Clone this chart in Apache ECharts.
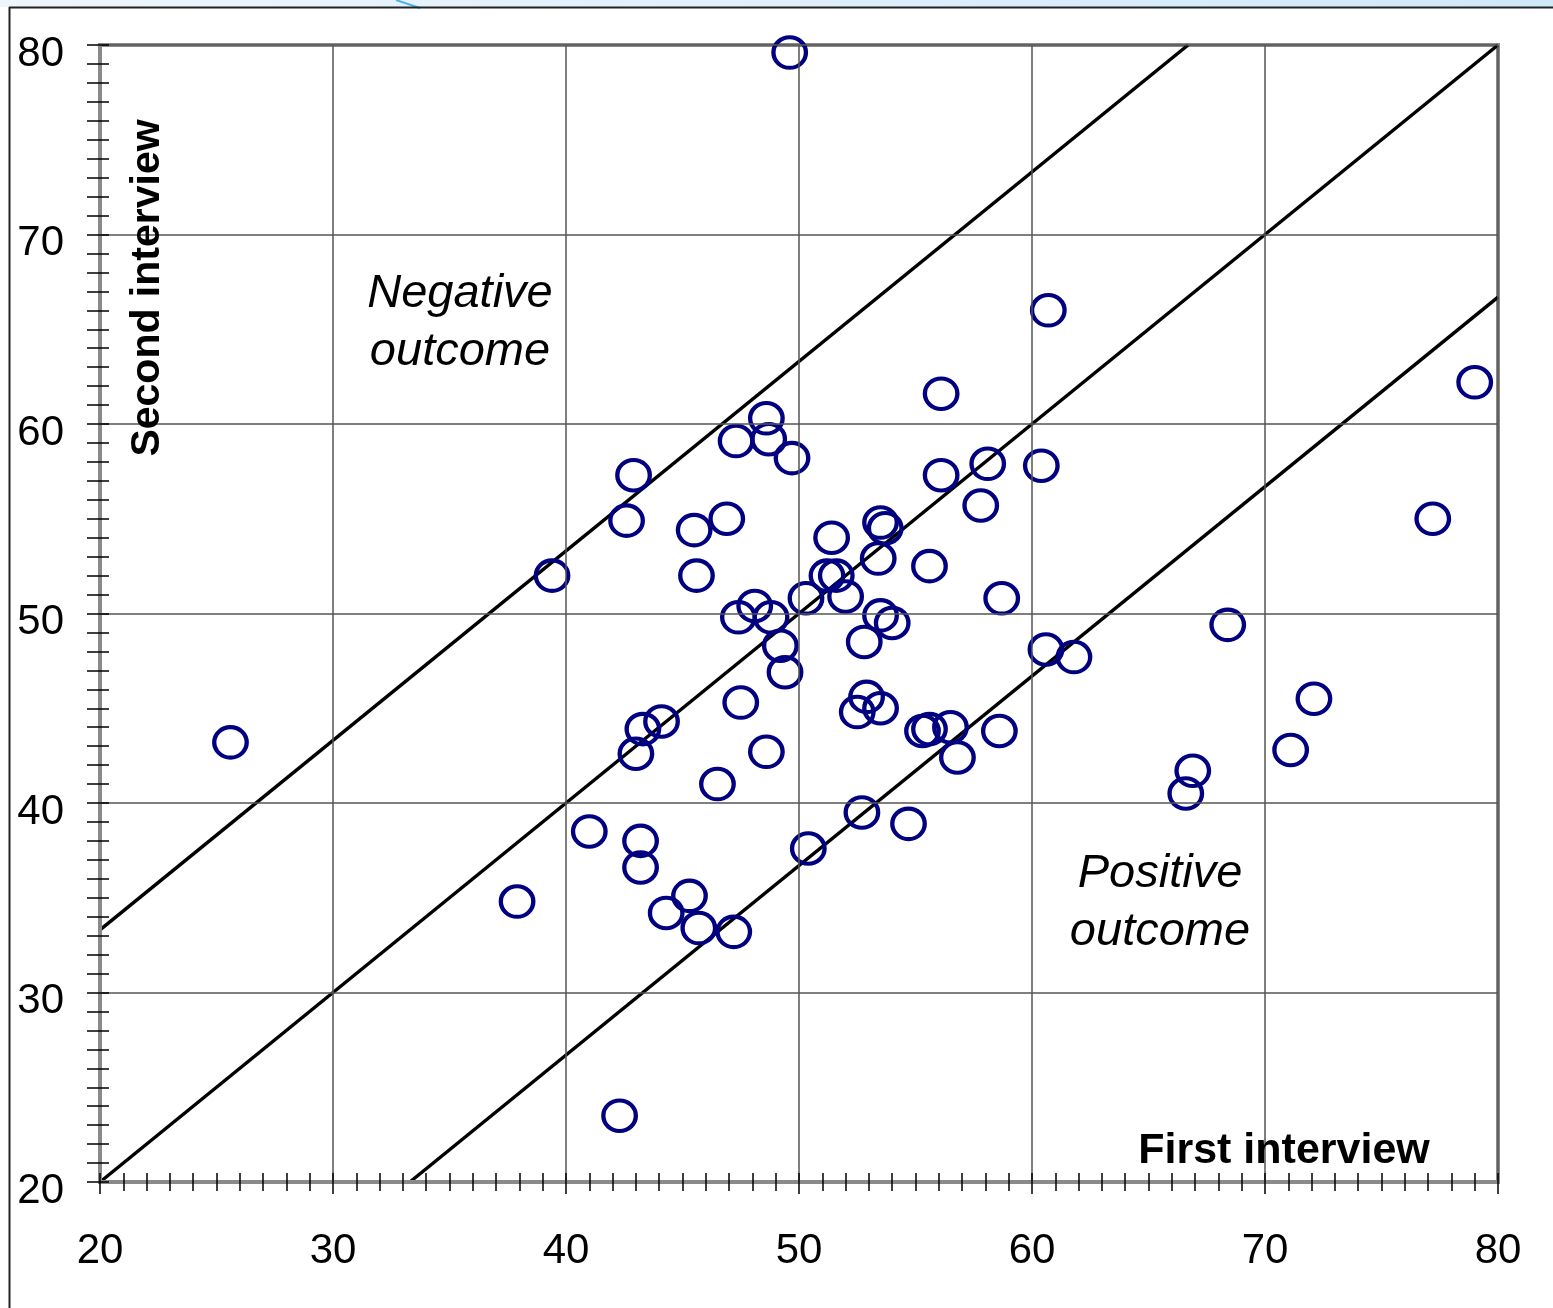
<!DOCTYPE html>
<html>
<head>
<meta charset="utf-8">
<script src="https://cdn.jsdelivr.net/npm/echarts@6/dist/echarts.min.js"></script>
<style>html,body{margin:0;padding:0;background:#fff;}#c{width:1553px;height:1308px;}</style>
</head>
<body>
<div id="c"></div>
<script>
// First interview score (x) and second interview score (y), one entry per respondent
const firstInterview = [
  49.6, 60.7, 56.1, 79.0, 48.6, 47.3, 48.7, 49.7, 42.9, 56.1,
  58.1, 60.4, 57.8, 77.2, 42.6, 46.9, 45.5, 51.4, 53.5, 53.7,
  39.4, 45.6, 53.4, 55.6, 51.2, 51.6, 52.0, 50.3, 58.7, 48.1,
  47.4, 48.8, 53.5, 54.0, 49.2, 52.8, 68.4, 60.6, 61.8, 49.4,
  47.5, 52.9, 52.5, 53.5, 72.1, 44.1, 43.3, 43.0, 55.3, 55.6,
  56.5, 56.8, 58.6, 48.6, 46.5, 66.9, 66.6, 71.1, 25.6, 41.0,
  43.2, 43.2, 52.7, 54.7, 50.4, 37.9, 45.3, 44.3, 45.7, 47.2,
  42.3
];
const secondInterview = [
  79.6, 66.0, 61.6, 62.2, 60.3, 59.1, 59.2, 58.2, 57.3, 57.3,
  57.9, 57.8, 55.7, 55.0, 54.9, 55.0, 54.4, 54.0, 54.8, 54.5,
  52.0, 52.0, 52.9, 52.5, 52.0, 52.0, 50.9, 50.8, 50.8, 50.4,
  49.8, 49.8, 49.9, 49.5, 48.3, 48.5, 49.4, 48.1, 47.7, 46.9,
  45.3, 45.6, 44.8, 45.0, 45.5, 44.3, 43.9, 42.6, 43.8, 43.9,
  44.0, 42.4, 43.8, 42.7, 41.0, 41.7, 40.5, 42.8, 43.2, 38.5,
  38.0, 36.6, 39.5, 38.9, 37.6, 34.8, 35.1, 34.2, 33.4, 33.2,
  23.5
];
// Axis tick labels (both axes)
const tickLabels = [20, 30, 40, 50, 60, 70, 80];
// Reference lines (endpoints)
const diagonalLine = [[20, 20], [80, 80]];
const upperBandLine = [[20, 33.3], [66.7, 80]];
const lowerBandLine = [[33.3, 20], [80, 66.7]];
// Texts
const negativeText = 'Negative\noutcome';
const positiveText = 'Positive\noutcome';
const xTitle = 'First interview';
const yTitle = 'Second interview';

const FONT = '"Liberation Sans", Arial, Helvetica, sans-serif';
const axisMin = tickLabels[0], axisMax = tickLabels[tickLabels.length - 1];
const axisStep = tickLabels[1] - tickLabels[0];

const points = firstInterview.map((x, i) => [x, secondInterview[i]]);

const chart = echarts.init(document.getElementById('c'), null, {renderer: 'canvas'});

function mainAxis(isX) {
  const label = {
    show: true, color: '#000', fontFamily: FONT, fontSize: 42,
    margin: isX ? 48 : 36,
    formatter: v => tickLabels.includes(v) ? String(v) : ''
  };
  if (!isX) { label.verticalAlign = 'top'; label.lineHeight = 18; }
  return {
    type: 'value', min: axisMin, max: axisMax, interval: axisStep,
    position: isX ? 'bottom' : 'left',
    axisLine: {show: true, onZero: false, lineStyle: {color: '#8a8a8a', width: 4}},
    axisTick: {show: true, inside: false, length: isX ? 12 : 13, lineStyle: {color: '#000', width: 1.5}},
    minorTick: {show: true, splitNumber: 10, length: isX ? 9 : 13, lineStyle: {color: '#000', width: 1.5}},
    splitLine: {show: true, lineStyle: {color: '#555', width: 1.5}},
    axisLabel: label,
    z: 5
  };
}
function innerAxis(isX) {
  return {
    type: 'value', min: axisMin, max: axisMax, interval: axisStep,
    position: isX ? 'bottom' : 'left',
    axisLine: {show: false, onZero: false},
    axisTick: {show: true, inside: true, length: 9, lineStyle: {color: '#000', width: 1.5}},
    minorTick: {show: true, splitNumber: 10, length: 9, lineStyle: {color: '#000', width: 1.5}},
    splitLine: {show: false},
    axisLabel: {show: false},
    z: 5
  };
}

const option = {
  backgroundColor: '#fff',
  animation: false,
  grid: {left: 100, right: 55, top: 45, bottom: 126, show: true, borderColor: '#8a8a8a', borderWidth: 4, containLabel: false},
  xAxis: [mainAxis(true), innerAxis(true)],
  yAxis: [mainAxis(false), innerAxis(false)],
  series: [
    {type: 'line', data: upperBandLine, symbol: 'none', silent: true, lineStyle: {color: '#000', width: 3.5}, z: 3},
    {type: 'line', data: diagonalLine, symbol: 'none', silent: true, lineStyle: {color: '#000', width: 3.5}, z: 3},
    {type: 'line', data: lowerBandLine, symbol: 'none', silent: true, lineStyle: {color: '#000', width: 3.5}, z: 3},
    {
      type: 'scatter', data: points, symbol: 'circle', symbolSize: [32.5, 30.5],
      itemStyle: {color: 'rgba(0,0,0,0)', borderColor: '#000080', borderWidth: 4.2, opacity: 1},
      z: 4
    }
  ],
  graphic: [
    {type: 'rect', left: 0, top: 0, shape: {width: 1553, height: 7}, style: {fill: new echarts.graphic.LinearGradient(0, 0, 1, 0, [{offset: 0, color: '#eef6fc'}, {offset: 1, color: '#cfe8fa'}])}, z: 1},
    {type: 'line', shape: {x1: 396, y1: 0, x2: 420, y2: 8}, style: {stroke: '#4fb3f0', lineWidth: 2}, z: 2},
    {type: 'line', shape: {x1: 9, y1: 7.5, x2: 1553, y2: 7.5}, style: {stroke: '#222', lineWidth: 2}, z: 2},
    {type: 'line', shape: {x1: 9.5, y1: 7, x2: 9.5, y2: 1308}, style: {stroke: '#222', lineWidth: 2}, z: 2},
    {type: 'text', x: 460, y: 323, z: 10, style: {text: negativeText, fontFamily: FONT, fontStyle: 'italic', fontSize: 47, lineHeight: 58, align: 'center', verticalAlign: 'middle', fill: '#000'}},
    {type: 'text', x: 1160, y: 903, z: 10, style: {text: positiveText, fontFamily: FONT, fontStyle: 'italic', fontSize: 47, lineHeight: 58, align: 'center', verticalAlign: 'middle', fill: '#000'}},
    {type: 'text', x: 1284, y: 1151, z: 10, style: {text: xTitle, fontFamily: FONT, fontWeight: 'bold', fontSize: 43, align: 'center', verticalAlign: 'middle', fill: '#000'}},
    {type: 'text', x: 148, y: 288, rotation: Math.PI / 2, z: 10, style: {text: yTitle, fontFamily: FONT, fontWeight: 'bold', fontSize: 41, align: 'center', verticalAlign: 'middle', fill: '#000'}}
  ]
};
chart.setOption(option);
</script>
</body>
</html>
